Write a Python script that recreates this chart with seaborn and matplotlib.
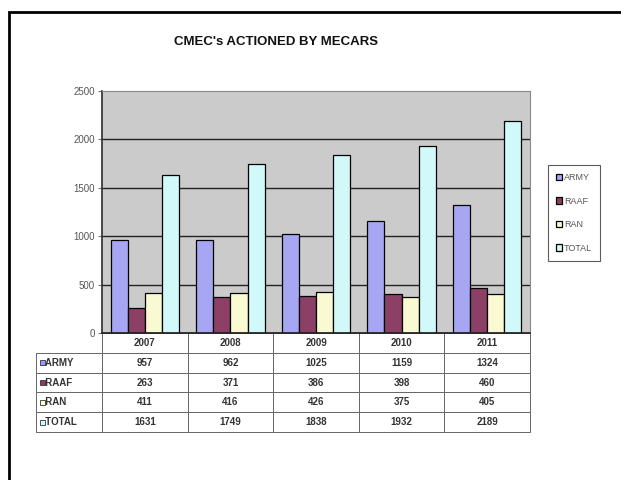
import pandas as pd
import matplotlib.pyplot as plt
from matplotlib.patches import Rectangle
import seaborn as sns

# Chart data
years = ["2007", "2008", "2009", "2010", "2011"]
army = [957, 962, 1025, 1159, 1324]
raaf = [263, 371, 386, 398, 460]
ran = [411, 416, 426, 375, 405]
total = [1631, 1749, 1838, 1932, 2189]
series_names = ["ARMY", "RAAF", "RAN", "TOTAL"]
series_colors = ["#9999FF", "#993366", "#FFFFCC", "#CCFFFF"]
y_ticks = [0, 500, 1000, 1500, 2000, 2500]

series_values = [army, raaf, ran, total]
df = pd.DataFrame({
    "Year": years * len(series_names),
    "Series": [s for s in series_names for _ in years],
    "Count": [v for vals in series_values for v in vals],
})

sns.set_theme(style="white")
plt.rcParams['font.family'] = ['Liberation Sans', 'DejaVu Sans']

fig = plt.figure(figsize=(6.21, 4.8), dpi=100)
ax = fig.add_axes([102 / 621, 1 - 333 / 480, 428 / 621, 242 / 480])

sns.barplot(data=df, x="Year", y="Count", hue="Series", order=years,
            hue_order=series_names, palette=series_colors, width=0.8,
            edgecolor="black", linewidth=0.9, ax=ax)

ax.set_facecolor("#CBCBCB")
ax.set_ylim(0, 2500)
ax.set_yticks(y_ticks)
ax.set_yticklabels([str(t) for t in y_ticks], fontsize=7, color="#555555")
ax.tick_params(axis="y", length=3, width=0.6, color="#555555", pad=2, left=True)
ax.set_xticks([])
ax.set_xlabel("")
ax.set_ylabel("")
ax.set_xlim(-0.5, len(years) - 0.5)
for y in y_ticks[1:-1]:
    ax.axhline(y, color="#222222", linewidth=1.0, zorder=0.5)
for side in ["top", "right"]:
    ax.spines[side].set_color("#888888")
    ax.spines[side].set_linewidth(0.8)
ax.spines["left"].set_color("#333333")
ax.spines["bottom"].set_color("#222222")

# Legend on the right
handles, labels = ax.get_legend_handles_labels()
ax.legend_.remove()
leg = fig.legend(handles, labels, loc="upper left", bbox_to_anchor=(0.882, 0.656),
                 fontsize=6.5, frameon=True, fancybox=False, edgecolor="#333333",
                 handlelength=0.7, handleheight=0.7, handletextpad=0.2,
                 labelspacing=1.6, borderpad=0.9, borderaxespad=0)
for t in leg.get_texts():
    t.set_color("#555555")
leg.get_frame().set_linewidth(0.8)

# Data table under the chart (row labels sit left of the bbox)
label_w = 66 / 428
cell_text = [[str(v) for v in vals] for vals in series_values]
tbl = ax.table(cellText=cell_text, rowLabels=["   " + s for s in series_names],
               colLabels=years, cellLoc="center", rowLoc="left",
               colWidths=[1 / len(years)] * len(years),
               bbox=[0, -99 / 242, 1, 99 / 242])
tbl._autoColumns = []
tbl.auto_set_font_size(False)
tbl.set_fontsize(7)
for (r, c), cell in tbl.get_celld().items():
    cell.set_edgecolor("#666666")
    cell.set_linewidth(0.7)
    cell.get_text().set_fontweight("bold")
    cell.get_text().set_color("#333333")
    if c == -1:
        cell.set_width(label_w)
        cell.PAD = 0.02

# Legend keys in the row label cells
fig.canvas.draw()
inv = fig.transFigure.inverted()
for i, color in enumerate(series_colors):
    cell = tbl[i + 1, -1]
    bb = cell.get_window_extent(fig.canvas.get_renderer())
    (x0, y0), (x1, y1) = inv.transform([(bb.x0, bb.y0), (bb.x1, bb.y1)])
    size_w = 5 / 621
    size_h = 5 / 480
    yc = (y0 + y1) / 2
    fig.patches.append(Rectangle((x0 + 4 / 621, yc - size_h / 2), size_w, size_h,
                                 transform=fig.transFigure, facecolor=color,
                                 edgecolor="#333333", linewidth=0.6))

fig.text(0.445, 0.9125, "CMEC's ACTIONED BY MECARS", ha="center", va="center",
         fontsize=9.5, fontweight="bold", color="#111111")

# Outer frame
fig.patches.append(Rectangle((9 / 621, -0.1), 1.2, 1.1 - 12 / 480,
                             transform=fig.transFigure, fill=False,
                             edgecolor="black", linewidth=2))

plt.savefig("out.png", dpi=100)
